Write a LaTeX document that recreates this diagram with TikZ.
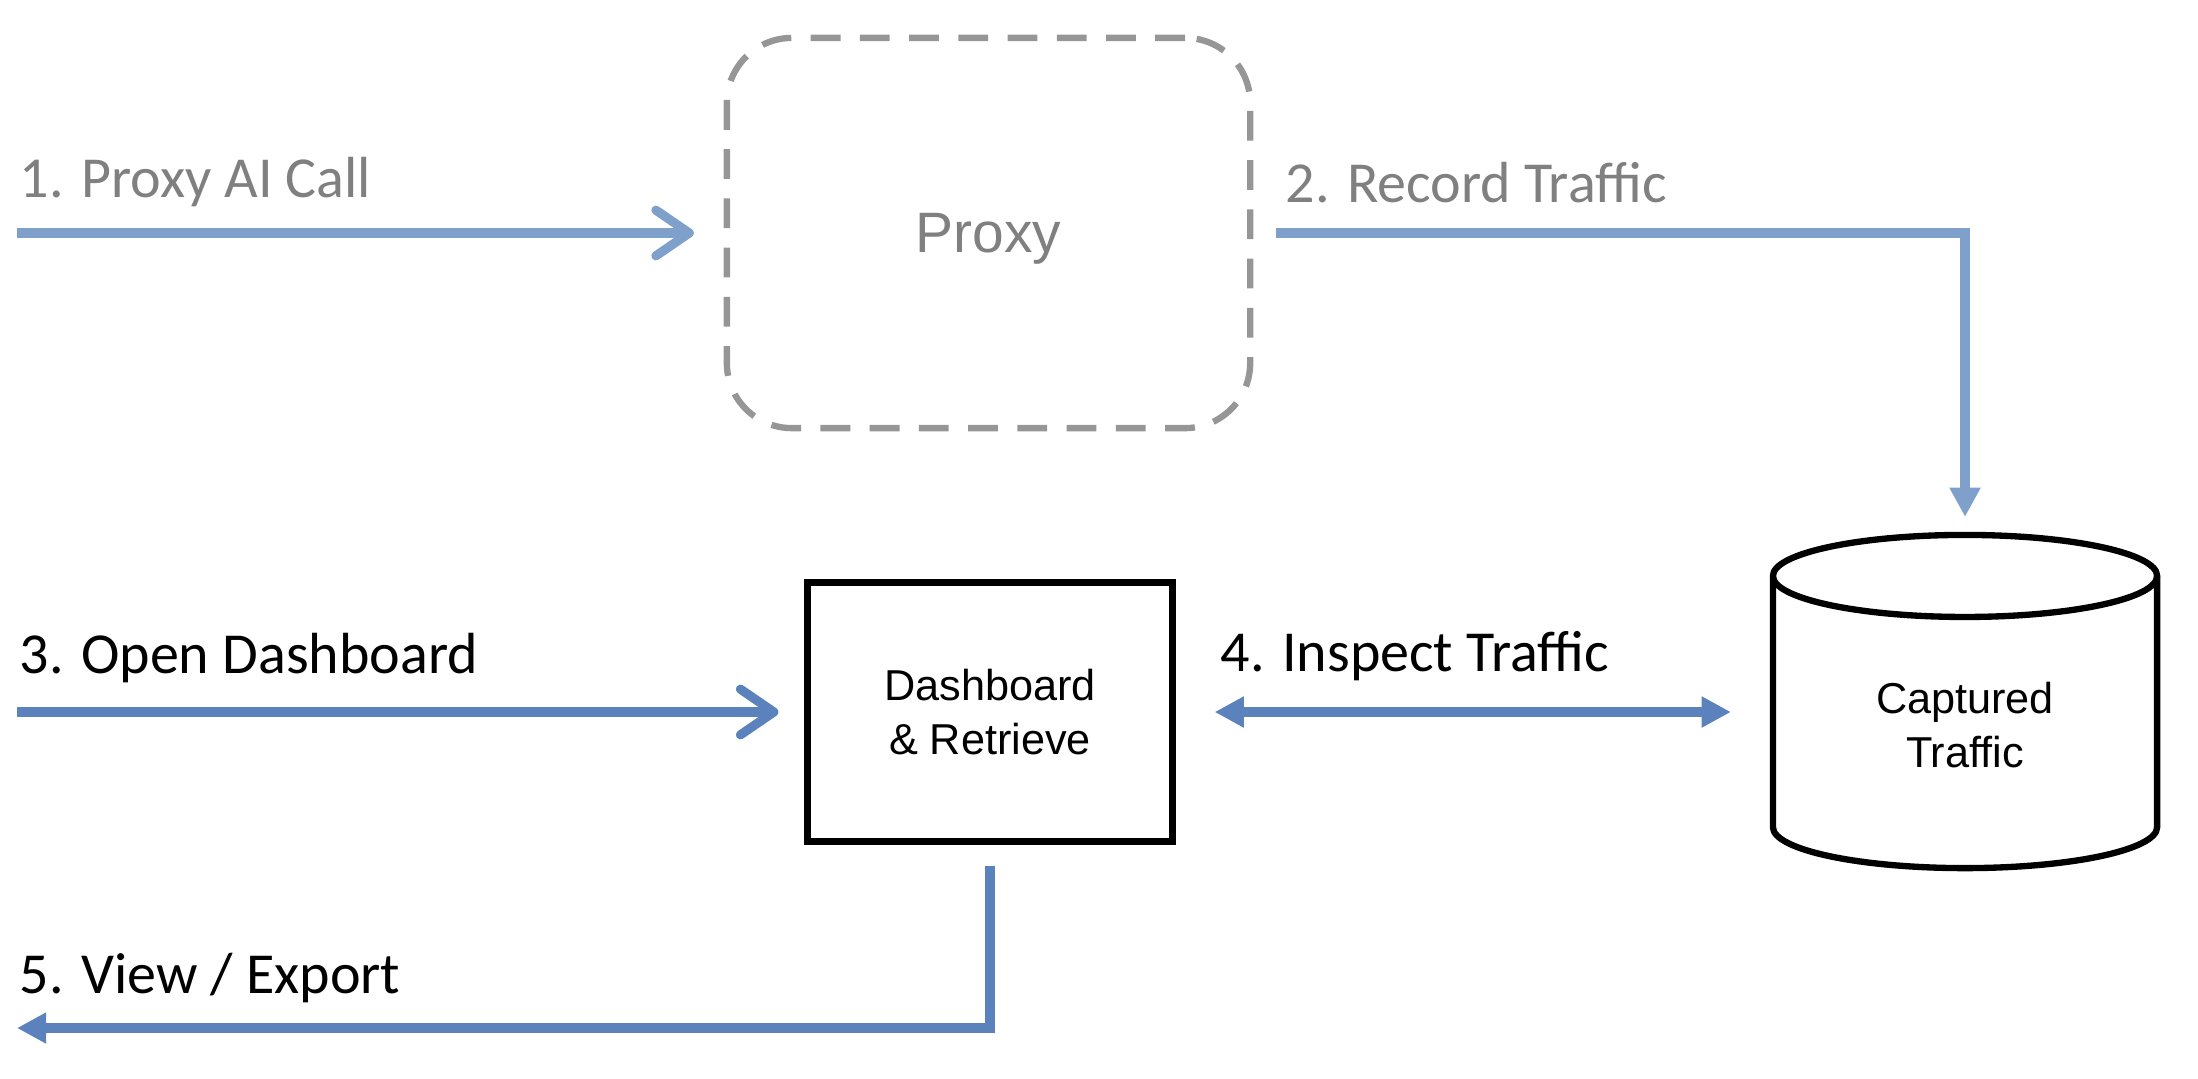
\documentclass[tikz,border=0pt]{standalone}
\usepackage{fontspec}
\setmainfont{Carlito}
\newfontfamily\helvfont{Liberation Sans}
\usetikzlibrary{arrows.meta,positioning,calc}
\definecolor{flowLight}{RGB}{128,160,204}
\definecolor{flowDark}{RGB}{92,130,189}
\definecolor{labelGray}{RGB}{128,128,128}
\definecolor{dashGray}{RGB}{150,150,150}

\begin{document}
\begin{tikzpicture}[
  x=0.01cm, y=-0.01cm,
  proxybox/.style={rectangle, rounded corners=0.65cm, draw=dashGray,
                   line width=1.8pt, dash pattern=on 8.5pt off 5.5pt,
                   minimum width=5.23cm, minimum height=3.9cm,
                   outer sep=0pt, text=labelGray, text depth=0pt,
                   font=\helvfont\fontsize{16.2}{19}\selectfont},
  dashbox/.style={rectangle, draw=black, line width=1.8pt,
                  minimum width=3.65cm, minimum height=2.59cm,
                  outer sep=0pt, align=center,
                  font=\helvfont\fontsize{12.3}{15.6}\selectfont},
  dbtext/.style={align=center,
                 font=\helvfont\fontsize{12.3}{15.4}\selectfont},
  dbline/.style={line width=1.8pt, fill=white},
  lbl/.style={anchor=base west, inner sep=0pt,
              font=\fontsize{16.5}{20}\selectfont},
  barb/.style={-{Straight Barb[length=9.5pt, width=13pt, round]},
               line width=2.6pt},
  tri/.style={>={Triangle[length=8.3pt, width=8.3pt]}, line width=2.6pt}
]
  \useasboundingbox (0,0) rectangle (2198,1078);

  \node[proxybox] (proxy) at (988.5,233) {Proxy};
  \node[dashbox] (dash) at (990,712) {Dashboard\\\& Retrieve};
  \node[minimum width=3.84cm, minimum height=3.33cm, outer sep=0pt]
    (store) at (1965,701.5) {};
  \draw[dbline] ([yshift=-0.41cm]store.north west)
    -- ([yshift=0.41cm]store.south west)
    arc[start angle=180, end angle=360, x radius=1.92cm, y radius=0.41cm]
    -- ([yshift=-0.41cm]store.north east)
    arc[start angle=0, end angle=180, x radius=1.92cm, y radius=0.41cm]
    -- cycle;
  \draw[dbline, fill=none] ([yshift=-0.41cm]store.north west)
    arc[start angle=180, end angle=360, x radius=1.92cm, y radius=0.41cm];
  \node[dbtext] (storetxt) at (1965,725) {Captured\\Traffic};

  \coordinate (in1) at (17,233);
  \coordinate (in3) at (17,712);
  \coordinate (out5) at (17,1028);

  \node[lbl, text=labelGray] (lab1) at (19,197) {1. Proxy AI Call};
  \node[lbl, text=labelGray] (lab2) at (1285,202) {2. Record Traffic};
  \node[lbl] (lab3) at (19,673) {3. Open Dashboard};
  \node[lbl] (lab4) at (1220,671) {4. Inspect Traffic};
  \node[lbl] (lab5) at (19,993) {5. View / Export};

  \draw[barb, flowLight, shorten >=0.33cm] (in1) -- (proxy.west);
  \draw[tri, ->, flowLight, shorten <=0.26cm, shorten >=0.18cm]
    (proxy.east) -| (store.north);
  \draw[barb, flowDark, shorten >=0.29cm] (in3) -- (dash.west);
  \draw[tri, <->, flowDark, shorten <=0.42cm, shorten >=0.42cm]
    (dash.east) -- (dash.east -| store.west);
  \draw[tri, ->, flowDark, shorten <=0.24cm] (dash.south) |- (out5);
\end{tikzpicture}
\end{document}
